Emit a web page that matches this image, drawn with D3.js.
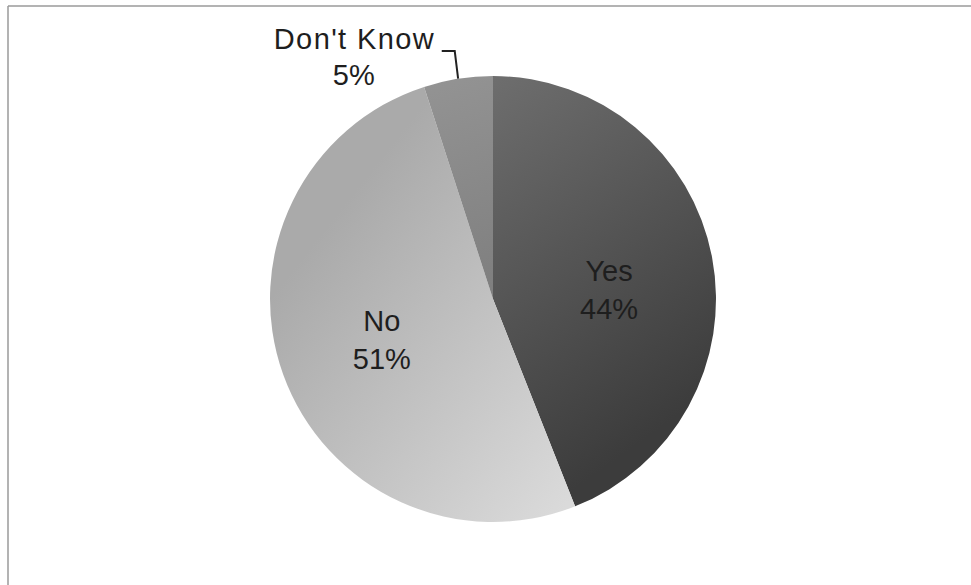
<!DOCTYPE html>
<html>
<head>
<meta charset="utf-8">
<script src="https://cdn.jsdelivr.net/npm/d3@7"></script>
<style>
  body { margin: 0; background: #fff; }
  svg { display: block; }
  text { font-family: "Liberation Sans", Arial, sans-serif; }
</style>
</head>
<body>
<svg id="chart"></svg>
<script>
// Data
const labels = ["Yes", "No", "Don't Know"];
const values = [44, 51, 5];

const width = 971, height = 585;
const cx = 493, cy = 299, radius = 223;

const svg = d3.select("#chart")
    .attr("width", width)
    .attr("height", height);

// frame (only top and left edges show in the scan)
svg.append("line")
    .attr("x1", 8).attr("x2", width).attr("y1", 6).attr("y2", 6)
    .attr("stroke", "#9a9a9a").attr("stroke-width", 1.5);
svg.append("line")
    .attr("x1", 8).attr("x2", 8).attr("y1", 6).attr("y2", height)
    .attr("stroke", "#9a9a9a").attr("stroke-width", 1.5);

const g = svg.append("g")
    .attr("transform", `translate(${cx},${cy})`);

// soft shading per slice, coords relative to pie centre
const shades = [
  {x1: 0, y1: -radius, x2: radius, y2: radius * 0.4, stops: ["#6e6e6e", "#3c3c3c"]},
  {x1: -radius, y1: 0, x2: 60, y2: radius, stops: ["#aaaaaa", "#dadada"]},
  {x1: -80, y1: -radius, x2: 0, y2: 0, stops: ["#949494", "#7e7e7e"]}
];
const defs = svg.append("defs");
shades.forEach((s, i) => {
  const lg = defs.append("linearGradient")
      .attr("id", "shade" + i)
      .attr("gradientUnits", "userSpaceOnUse")
      .attr("x1", s.x1).attr("y1", s.y1)
      .attr("x2", s.x2).attr("y2", s.y2);
  lg.append("stop").attr("offset", "0%").attr("stop-color", s.stops[0]);
  lg.append("stop").attr("offset", "100%").attr("stop-color", s.stops[1]);
});

const data = labels.map((l, i) => ({label: l, value: values[i], idx: i}));

const pie = d3.pie()
    .value(d => d.value)
    .sort(null);

const arc = d3.arc()
    .innerRadius(0)
    .outerRadius(radius);

const labelArc = d3.arc()
    .innerRadius(radius * 0.53)
    .outerRadius(radius * 0.53);

const arcs = pie(data);

g.selectAll("path")
    .data(arcs)
    .enter()
    .append("path")
    .attr("d", arc)
    .attr("fill", d => `url(#shade${d.data.idx})`);

const fontSize = 29;
const nudge = {"Yes": 8, "No": -4};

// inside labels
arcs.filter(d => d.data.value >= 10).forEach(d => {
  const [x, y0] = labelArc.centroid(d);
  const y = y0 + (nudge[d.data.label] || 0);
  const t = g.append("text")
      .attr("text-anchor", "middle")
      .attr("font-size", fontSize)
      .attr("fill", "#1e1e1e");
  t.append("tspan").attr("x", x).attr("y", y - 4).text(d.data.label);
  t.append("tspan").attr("x", x).attr("y", y + 34).text(d.data.value + "%");
});

// outside label with leader line
arcs.filter(d => d.data.value < 10).forEach(d => {
  const mid = (d.startAngle + d.endAngle) / 2;
  const p0 = [Math.sin(mid) * radius, -Math.cos(mid) * radius];
  const p1 = [Math.sin(mid) * (radius + 28) + 1, -Math.cos(mid) * (radius + 28)];
  const p2 = [p1[0] - 13, p1[1]];
  g.append("polyline")
      .attr("points", [p0, p1, p2].map(p => p.join(",")).join(" "))
      .attr("fill", "none")
      .attr("stroke", "#222")
      .attr("stroke-width", 2);
  const tx = p2[0] - 88;
  const t = g.append("text")
      .attr("text-anchor", "middle")
      .attr("font-size", fontSize)
      .attr("fill", "#1e1e1e");
  t.append("tspan").attr("x", tx).attr("y", p2[1] - 2).attr("textLength", 160).text(d.data.label);
  t.append("tspan").attr("x", tx).attr("y", p2[1] + 34).text(d.data.value + "%");
});
</script>
</body>
</html>
